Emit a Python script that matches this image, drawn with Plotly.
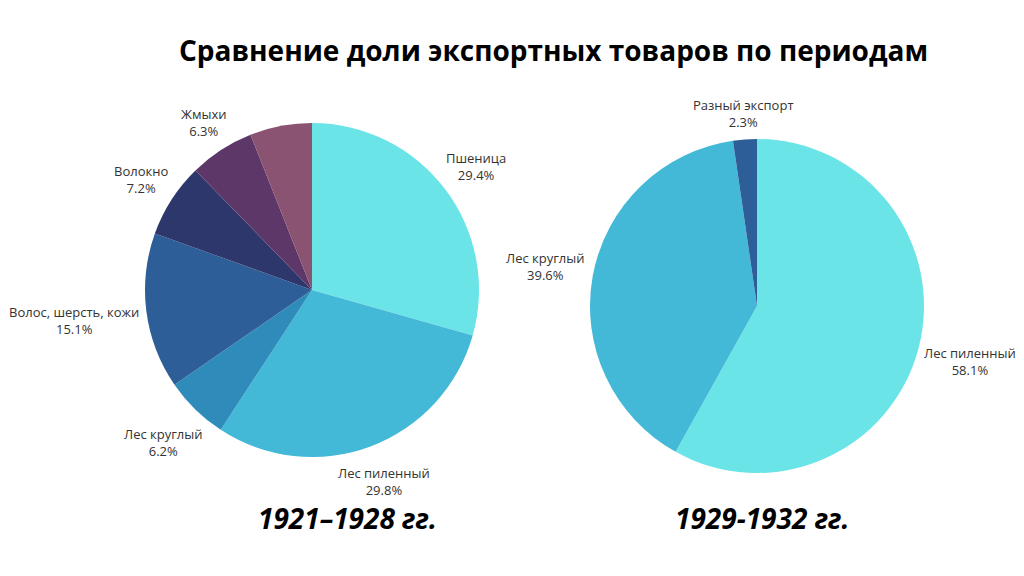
import math
import plotly.graph_objects as go

title_text = "Сравнение доли экспортных товаров по периодам"

period1 = "1921–1928 гг."
labels1 = ["Пшеница", "Лес пиленный", "Лес круглый", "Волос, шерсть, кожи", "Волокно", "Жмыхи", "Разный экспорт"]
values1 = [29.4, 29.8, 6.2, 15.1, 7.2, 6.3, 6.0]
show1 = [True, True, True, True, True, True, False]
colors1 = ["#6be4e8", "#43b8d7", "#2e8bba", "#2e5e97", "#2e376b", "#5d3767", "#8a5372"]

period2 = "1929-1932 гг."
labels2 = ["Лес пиленный", "Лес круглый", "Разный экспорт"]
values2 = [58.1, 39.6, 2.3]
show2 = [True, True, True]
colors2 = ["#6be4e8", "#43b8d7", "#2e5e97"]

W, H = 1024, 576
FONT = "Open Sans"
LABEL_SIZE = 13

# pie geometry (pixels): centre x, centre y (from top), radius
PIES = [
    dict(cx=312, cy=290, r=167, labels=labels1, values=values1, show=show1, colors=colors1, period=period1, px=347),
    dict(cx=757, cy=306, r=167, labels=labels2, values=values2, show=show2, colors=colors2, period=period2, px=762),
]


def text_width(s):
    w = 0.0
    for c in s:
        if c in " ,.":
            w += 3.4
        elif c in "шщжымЖШМ":
            w += 10.5
        elif c.isdigit():
            w += 7.4
        elif c == "%":
            w += 10.9
        elif c.isupper():
            w += 8.8
        else:
            w += 7.6
    return w


fig = go.Figure()
for p in PIES:
    cx, cy, r = p["cx"], p["cy"], p["r"]
    fig.add_trace(go.Pie(
        labels=p["labels"], values=p["values"], textinfo="none",
        sort=False, direction="clockwise", rotation=0,
        marker=dict(colors=p["colors"], line=dict(width=0)),
        domain=dict(x=[(cx - r) / W, (cx + r) / W], y=[1 - (cy + r) / H, 1 - (cy - r) / H]),
        showlegend=False, hoverinfo="label+percent",
    ))
    total = sum(p["values"])
    cum = 0.0
    for lab, val, s in zip(p["labels"], p["values"], p["show"]):
        mid = (cum + val / 2) / total
        cum += val
        if not s:
            continue
        th = 2 * math.pi * mid
        sx, cy_up = math.sin(th), math.cos(th)
        pct = f"{val:.1f}%"
        w = max(text_width(lab), text_width(pct))
        h = 37
        d = r + 4 + abs(sx) * w / 2 + abs(cy_up) * h / 2
        x = cx + d * sx
        y = cy - d * cy_up
        fig.add_annotation(text=f"{lab}<br>{pct}", x=x / W, y=1 - y / H, xref="paper", yref="paper",
                           showarrow=False, xanchor="center", yanchor="middle", align="center",
                           font=dict(family=FONT, size=LABEL_SIZE, color="#333333"))
    fig.add_annotation(text=f"<b><i>{p['period']}</i></b>", x=p["px"] / W, y=1 - 518 / H,
                       xref="paper", yref="paper", showarrow=False,
                       font=dict(family=FONT, size=28, color="#000000"),
                       xanchor="center", yanchor="middle")

fig.add_annotation(text=f"<b>{title_text}</b>", x=553 / W, y=1 - 50 / H, xref="paper", yref="paper",
                   showarrow=False, font=dict(family=FONT, size=28, color="#000000"),
                   xanchor="center", yanchor="middle")

fig.update_layout(width=W, height=H, margin=dict(l=0, r=0, t=0, b=0),
                  paper_bgcolor="white", plot_bgcolor="white", font=dict(family=FONT))
fig.write_html("out.html")
